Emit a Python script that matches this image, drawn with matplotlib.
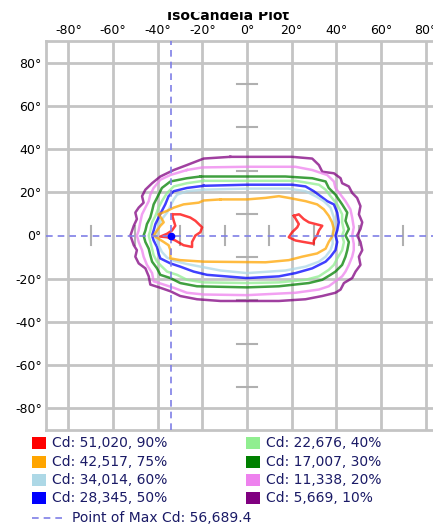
import numpy as np
import matplotlib
matplotlib.use("Agg")
import matplotlib.pyplot as plt
from matplotlib.patches import Rectangle
from matplotlib.lines import Line2D
from matplotlib.transforms import Bbox

# grid ticks (degrees)
grid_vals = [-80, -60, -40, -20, 0, 20, 40, 60, 80]
cross_vals = [-70, -50, -30, -10, 10, 30, 50, 70]

# isocandela contours, (horizontal deg, vertical deg)
cd90_left = [(-33.6, 9.8), (-29.9, 9.8), (-25.4, 8.3), (-23.1, 6.8), (-20.1, 3.8), (-20.9, 1.5),
             (-23.1, 0), (-24.6, -3.0), (-24.6, -5.3), (-28.4, -4.5), (-32.1, -2.3), (-35.8, -0.8),
             (-38.8, -0.5), (-35.8, 0.8), (-33.6, 2.3), (-32.1, 4.5), (-32.8, 6.8), (-33.6, 9.8)]
cd90_right = [(21.0, 9.1), (23.2, 9.8), (25.4, 7.6), (27.7, 6.1), (30.7, 5.3), (33.7, 4.5),
              (32.2, 2.3), (31.4, 0), (29.9, -2.3), (29.9, -3.8), (25.4, -3.0), (21.7, -2.3),
              (18.7, -0.8), (20.2, 1.5), (22.5, 3.8), (23.2, 5.3), (21.0, 9.1)]
cd75 = [(-11.9, 16.7), (-19.4, 16.2), (-21.6, 15.2), (-28.4, 14.4), (-32.8, 12.9), (-35.8, 11.4),
        (-39.6, 9.8), (-38.1, 7.6), (-37.3, 6.1), (-38.8, 4.5), (-40.3, 2.3), (-41.8, 0),
        (-39.6, -1.5), (-37.3, -3.0), (-35.1, -4.5), (-34.3, -6.8), (-34.3, -10.6), (-29.9, -11.4),
        (-19.4, -12.1), (8.3, -12.4), (18.7, -11.4), (24.7, -9.8), (31.4, -8.3), (35.2, -6.1),
        (36.6, -3.0), (38.4, 0), (38.9, 3.0), (38.1, 6.1), (36.6, 9.1), (34.4, 12.1), (31.4, 14.4),
        (26.2, 15.9), (18.7, 17.4), (14.3, 18.2), (8.3, 17.4), (0, 16.7), (-11.9, 16.7)]
cd60 = [(-19.4, 21.2), (-26.9, 20.5), (-31.3, 18.9), (-32.8, 16.7), (-34.3, 13.6), (-35.8, 10.6),
        (-38.1, 7.6), (-39.6, 4.5), (-41.0, 0), (-39.6, -4.5), (-38.1, -7.6), (-35.8, -10.2),
        (-32.8, -11.7), (-26.9, -13.2), (-19.4, -14.7), (-11.9, -16.2), (0, -17.4), (17.2, -16.2),
        (26.2, -14.4), (32.2, -12.1), (35.2, -9.8), (37.4, -6.8), (38.4, -3.8), (38.1, 0),
        (38.9, 3.8), (38.9, 8.3), (37.4, 12.9), (34.4, 15.9), (30.7, 18.2), (26.2, 20.5),
        (18.7, 21.7), (0, 21.7), (-19.4, 21.2)]
cd50 = [(-19.4, 23.0), (-26.9, 22.0), (-32.8, 20.5), (-35.1, 18.2), (-36.6, 14.4), (-38.1, 11.4),
        (-39.6, 8.3), (-41.0, 5.3), (-41.8, 2.3), (-42.5, 0), (-41.8, -2.3), (-40.3, -5.3),
        (-39.6, -8.3), (-38.8, -10.6), (-34.3, -12.9), (-29.9, -14.4), (-23.9, -16.7),
        (-17.9, -18.2), (0, -19.7), (14.3, -18.9), (21.7, -17.4), (29.2, -15.2), (35.2, -12.1),
        (37.4, -9.8), (39.6, -6.8), (40.4, -3.0), (39.6, 0), (40.4, 2.3), (41.1, 6.1), (40.4, 10.6),
        (38.9, 14.4), (35.9, 15.9), (32.9, 18.2), (29.9, 20.5), (26.2, 22.7), (20.2, 23.5),
        (0, 23.5), (-19.4, 23.0)]
cd40 = [(-19.4, 25.3), (-26.9, 24.2), (-32.8, 22.7), (-35.8, 19.7), (-38.1, 15.9), (-39.6, 12.9),
        (-41.0, 9.1), (-42.5, 6.1), (-43.3, 2.3), (-44.0, 0), (-43.3, -3.0), (-42.5, -6.1),
        (-41.8, -9.1), (-40.3, -12.1), (-38.1, -14.4), (-35.8, -16.7), (-31.3, -18.2),
        (-26.9, -20.5), (-19.4, -21.7), (0, -22.0), (14.3, -21.7), (26.2, -20.5), (32.2, -18.9),
        (36.6, -15.9), (38.9, -13.6), (40.4, -10.6), (42.6, -6.8), (43.4, -3.0), (42.6, 0),
        (43.4, 2.3), (42.6, 6.1), (42.6, 9.8), (40.4, 14.4), (37.4, 18.2), (35.2, 21.2),
        (32.2, 23.5), (21.7, 25.3), (0, 25.3), (-19.4, 25.3)]
cd30 = [(-20.9, 27.3), (-26.9, 26.5), (-34.3, 25.0), (-38.1, 22.0), (-40.3, 17.4), (-41.8, 14.4),
        (-42.5, 11.4), (-43.3, 8.3), (-44.8, 5.3), (-45.5, 2.3), (-46.3, 0), (-45.5, -3.0),
        (-44.0, -6.1), (-43.3, -9.1), (-42.5, -12.1), (-40.3, -15.2), (-38.8, -18.2),
        (-34.3, -19.7), (-29.9, -22.0), (-22.4, -23.5), (0, -24.0), (14.3, -23.5), (27.7, -22.0),
        (33.7, -20.5), (37.4, -18.2), (39.6, -16.7), (42.6, -13.6), (44.1, -9.8), (44.9, -6.8),
        (45.6, -3.0), (44.1, 0), (45.6, 3.0), (44.1, 6.8), (44.9, 10.6), (42.6, 14.4),
        (39.6, 18.9), (36.6, 22.0), (35.2, 25.0), (29.2, 26.5), (17.2, 27.3), (0, 27.3),
        (-20.9, 27.3)]
cd20 = [(-26.9, 30.3), (-34.3, 28.0), (-38.8, 25.8), (-41.8, 22.0), (-43.3, 18.9), (-44.0, 15.9),
        (-45.5, 12.9), (-47.0, 9.8), (-47.8, 6.1), (-48.5, 2.3), (-49.3, 0), (-48.5, -3.0),
        (-47.0, -6.8), (-46.3, -9.8), (-44.8, -13.6), (-42.5, -17.4), (-41.8, -21.2),
        (-37.3, -22.7), (-32.8, -24.2), (-26.9, -26.5), (-19.4, -27.3), (0, -27.6), (21.7, -26.5),
        (32.2, -25.0), (36.6, -23.5), (39.6, -21.2), (42.6, -18.9), (44.1, -16.7), (45.6, -13.6),
        (47.1, -9.8), (47.8, -6.8), (47.8, -3.8), (47.1, 0), (47.8, 3.8), (47.1, 8.3),
        (46.3, 12.1), (44.1, 15.9), (41.9, 18.9), (39.6, 22.0), (38.9, 25.0), (35.9, 28.0),
        (29.2, 30.3), (21.7, 31.8), (0, 31.8), (-20.0, 31.5), (-26.9, 30.3)]
cd10 = [(-7.5, 36.4), (-19.4, 35.6), (-26.9, 32.6), (-32.8, 30.3), (-38.8, 27.3), (-42.5, 24.2),
        (-45.5, 21.2), (-47.0, 18.2), (-46.3, 15.2), (-48.5, 12.9), (-50.0, 10.6), (-49.3, 7.6),
        (-50.7, 4.5), (-52.2, 0), (-50.7, -4.5), (-49.3, -6.8), (-50.0, -9.8), (-48.5, -12.9),
        (-45.5, -15.2), (-44.0, -18.9), (-43.3, -22.7), (-38.8, -24.2), (-34.3, -25.8),
        (-29.9, -28.0), (-22.4, -29.5), (-11.9, -30.3), (14.3, -30.3), (26.2, -29.5),
        (33.7, -28.0), (39.6, -26.5), (41.9, -25.0), (43.4, -22.0), (47.1, -19.7), (48.6, -16.7),
        (50.8, -13.6), (50.1, -9.8), (51.6, -6.8), (50.8, -3.0), (49.3, 0), (50.8, 3.0),
        (51.6, 6.1), (50.1, 9.8), (50.8, 13.6), (49.3, 17.4), (47.1, 19.7), (45.6, 22.7),
        (42.6, 24.2), (41.9, 26.5), (38.9, 28.8), (33.7, 29.5), (32.2, 32.6), (29.2, 35.6),
        (20.2, 36.4), (-7.5, 36.4)]

max_point = (-34, 0)
max_cd = 56689.4
levels_pct = [90, 75, 60, 50, 40, 30, 20, 10]
levels_cd = [51020, 42517, 34014, 28345, 22676, 17007, 11338, 5669]
level_colors = ["#ff0000", "#ffa500", "#add8e6", "#0000ff", "#90ee90", "#008000", "#ee82ee", "#800080"]

W, H = 433, 527
fig = plt.figure(figsize=(W / 100, H / 100), dpi=100)
fx = lambda px: px / W
fy = lambda py: 1 - py / H

# plot spans -90..90 both ways; right edge is cut off by the image
ax = fig.add_axes([fx(46), fy(430), 402 / W, 389 / H])
ax.set_xlim(-90, 90)
ax.set_ylim(-90, 90)
ax.set_xticks(grid_vals)
ax.set_yticks(grid_vals)
ax.set_xticklabels([f"{v}°" for v in grid_vals])
ax.set_yticklabels([f"{v}°" for v in grid_vals])
ax.xaxis.tick_top()
ax.tick_params(length=0, labelsize=9, pad=3)
ax.grid(color="#c4c4c4", lw=2, zorder=0)
ax.set_axisbelow(True)
# the horizontal 0 line is only the dashed max line
ax.get_ygridlines()[grid_vals.index(0)].set_visible(False)
for s in ax.spines.values():
    s.set_color("#c4c4c4")
    s.set_linewidth(2)

# little cross ticks on the 0 axes
for v in cross_vals:
    ax.plot([-4.5, 4.5], [v, v], color="#b0b0b0", lw=1.5, zorder=1)
    ax.plot([v, v], [-4.5, 4.5], color="#b0b0b0", lw=1.5, zorder=1)

contours = [[cd90_left, cd90_right], [cd75], [cd60], [cd50], [cd40], [cd30], [cd20], [cd10]]
for polys, c in reversed(list(zip(contours, level_colors))):
    for p in polys:
        xs, ys = zip(*p)
        ax.plot(xs, ys, color=c, lw=1.8, alpha=0.75, zorder=3)

dash_col = "#7f7fe6"
ax.axhline(max_point[1], color=dash_col, lw=1.2, ls=(0, (4, 3)), zorder=4)
ax.axvline(max_point[0], color=dash_col, lw=1.2, ls=(0, (4, 3)), zorder=4)
ax.plot(*max_point, "o", color="#0000ff", ms=4.5, zorder=5)

# title, top part clipped like the reference
t = fig.text(fx(228), fy(20), "IsoCandela Plot", ha="center", va="baseline",
             fontsize=10, fontweight="bold")
t.set_clip_box(Bbox.from_extents(0, 0, W, H - 12))

# legend
txt_col = "#1a1a66"
rows = [443, 461.5, 480, 498]
for i, (pct, cd, c) in enumerate(zip(levels_pct, levels_cd, level_colors)):
    col, row = divmod(i, 4)
    x0 = 32 if col == 0 else 246
    y0 = rows[row]
    fig.add_artist(Rectangle((fx(x0), fy(y0 + 6)), 14 / W, 12 / H, transform=fig.transFigure,
                             facecolor=c, edgecolor="none"))
    fig.text(fx(x0 + 20), fy(y0), f"Cd: {cd:,}, {pct}%", ha="left", va="center",
             fontsize=10, color=txt_col)

fig.add_artist(Line2D([fx(32), fx(65)], [fy(518), fy(518)], transform=fig.transFigure,
                      color=dash_col, lw=1.2, ls=(0, (4, 3))))
fig.text(fx(72), fy(518), f"Point of Max Cd: {max_cd:,.1f}", ha="left", va="center",
         fontsize=10, color=txt_col)

fig.savefig("out.png", dpi=100)
